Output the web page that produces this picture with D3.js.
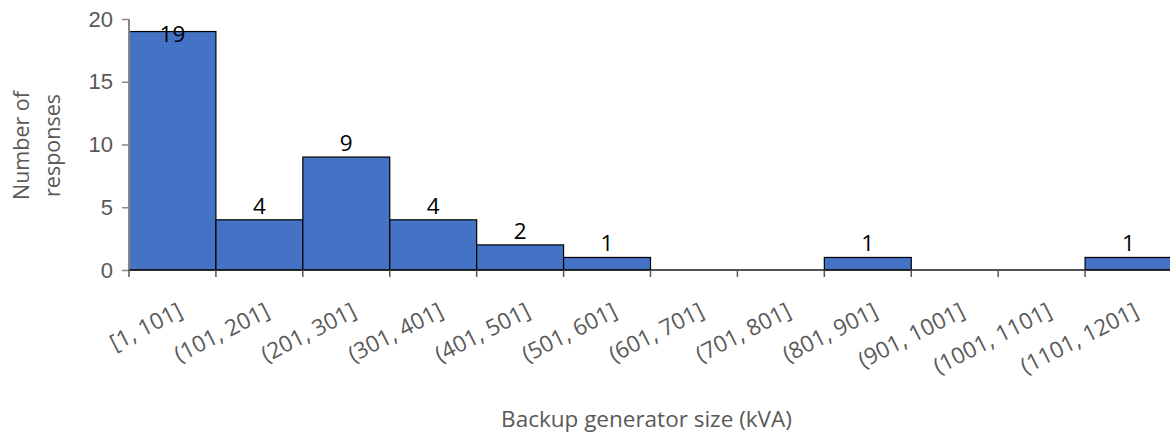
<!DOCTYPE html>
<html>
<head>
<meta charset="utf-8">
<script src="https://cdn.jsdelivr.net/npm/d3@7"></script>
<style>
  html, body { margin: 0; padding: 0; background: #fff; }
  svg { display: block; font-family: "Open Sans", "Noto Sans", sans-serif; }
</style>
</head>
<body>
<svg id="chart" width="1170" height="436"></svg>
<script>
// Backup generator size bins (kVA) and response counts
const bins = ["[1, 101]", "(101, 201]", "(201, 301]", "(301, 401]", "(401, 501]", "(501, 601]",
              "(601, 701]", "(701, 801]", "(801, 901]", "(901, 1001]", "(1001, 1101]", "(1101, 1201]"];
const counts = [19, 4, 9, 4, 2, 1, 0, 0, 1, 0, 0, 1];
const yTicks = [0, 5, 10, 15, 20];

const svg = d3.select("#chart");
const margin = { left: 129, right: -2, top: 19, bottom: 166 };
const W = 1170, H = 436;

const x = d3.scaleBand()
  .domain(bins)
  .range([margin.left, W - margin.right])
  .padding(0);

const y = d3.scaleLinear()
  .domain([0, 20])
  .range([H - margin.bottom, margin.top]);

const grey = "#595959";
const axisGrey = "#868686";

// Bars (adjacent histogram columns)
svg.append("g")
  .selectAll("rect")
  .data(counts)
  .join("rect")
  .attr("x", (d, i) => x(bins[i]))
  .attr("y", d => y(d))
  .attr("width", x.bandwidth())
  .attr("height", d => y(0) - y(d))
  .attr("fill", "#4472C4")
  .attr("stroke", "#000")
  .attr("stroke-width", 1.2);

// Y axis
const yAxis = svg.append("g")
  .attr("transform", `translate(${margin.left},0)`)
  .call(d3.axisLeft(y).tickValues(yTicks).tickSize(7).tickPadding(9));
yAxis.select(".domain").attr("stroke", axisGrey).attr("stroke-width", 2)
  .attr("d", `M0,${y(20)}V${y(0)}`);
yAxis.selectAll(".tick line").attr("stroke", axisGrey).attr("stroke-width", 1.5);
yAxis.selectAll(".tick text")
  .attr("fill", grey)
  .style("font-size", "22px");

// X axis: baseline and ticks at bin boundaries
const xg = svg.append("g").attr("transform", `translate(0,${y(0)})`);
xg.append("line")
  .attr("x1", margin.left).attr("x2", W)
  .attr("stroke", "#1a1a1a").attr("stroke-width", 1.5);
const edges = bins.map(b => x(b));
xg.selectAll("line.tick")
  .data(edges)
  .join("line")
  .attr("class", "tick")
  .attr("x1", d => d).attr("x2", d => d)
  .attr("y1", 0).attr("y2", 7)
  .attr("stroke", "#555").attr("stroke-width", 1.5);

// Rotated category labels
svg.append("g")
  .selectAll("text")
  .data(bins)
  .join("text")
  .attr("transform", d => `translate(${x(d) + x.bandwidth() / 2 + 8},${y(0) + 39}) rotate(-27)`)
  .attr("text-anchor", "end")
  .attr("dy", "0.35em")
  .attr("fill", grey)
  .style("font-size", "22.5px")
  .text(d => d);

// Value labels above non-empty bars; placed inside when there is no room above
svg.append("g")
  .selectAll("text")
  .data(counts.map((c, i) => ({ c, i })).filter(d => d.c > 0))
  .join("text")
  .attr("x", d => x(bins[d.i]) + x.bandwidth() / 2)
  .attr("y", d => {
    const above = y(d.c) - 6;
    return above - 15 < y(20) ? y(d.c) + 10 : above;
  })
  .attr("text-anchor", "middle")
  .attr("fill", "#000")
  .style("font-size", "22.5px")
  .text(d => d.c);

// Axis titles
const midY = (y(0) + y(20)) / 2 + 1;
svg.append("text")
  .attr("transform", `translate(29,${midY}) rotate(-90)`)
  .attr("text-anchor", "middle")
  .attr("fill", grey)
  .style("font-size", "21.5px")
  .text("Number of");
svg.append("text")
  .attr("transform", `translate(60,${midY}) rotate(-90)`)
  .attr("text-anchor", "middle")
  .attr("fill", grey)
  .style("font-size", "21.5px")
  .text("responses");

svg.append("text")
  .attr("x", (margin.left + W) / 2 - 3)
  .attr("y", 427)
  .attr("text-anchor", "middle")
  .attr("fill", grey)
  .style("font-size", "22.5px")
  .text("Backup generator size (kVA)");
</script>
</body>
</html>
